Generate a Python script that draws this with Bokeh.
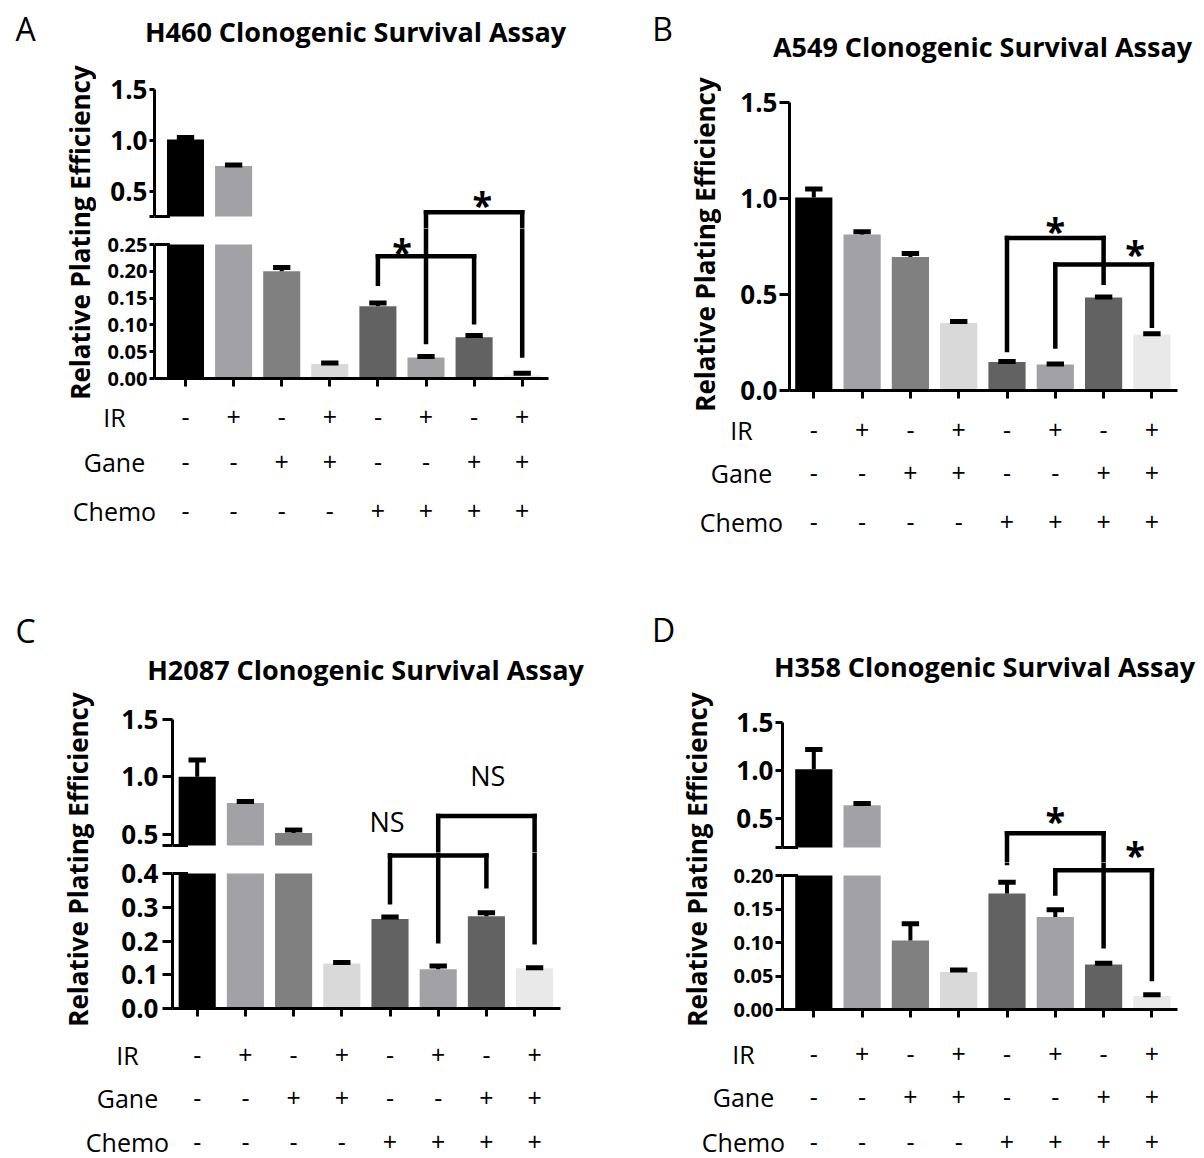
import numpy as np
from bokeh.plotting import figure
from bokeh.layouts import column, row
from bokeh.models import Range1d, FixedTicker, NumeralTickFormatter
from bokeh.core.properties import value
from bokeh.embed import file_html
from bokeh.resources import INLINE

FONT = "Open Sans"

# ---------------- data ----------------
positions = [1, 2, 3, 4, 5, 6, 7, 8]
row_names = ["IR", "Gane", "Chemo"]
ir_row = ["-", "+", "-", "+", "-", "+", "-", "+"]
gane_row = ["-", "-", "+", "+", "-", "-", "+", "+"]
chemo_row = ["-", "-", "-", "-", "+", "+", "+", "+"]
bar_colors = ["#000000", "#a2a2a6", "#808080", "#d9d9d9",
              "#626262", "#a2a2a6", "#626262", "#e9e9e9"]

titles = ["H460 Clonogenic Survival Assay", "A549 Clonogenic Survival Assay",
          "H2087 Clonogenic Survival Assay", "H358 Clonogenic Survival Assay"]
letters = ["A", "B", "C", "D"]
y_title = "Relative Plating Efficiency"

h460_mean = [1.008, 0.748, 0.200, 0.027, 0.135, 0.039, 0.077, 0.006]
h460_err = [0.020, 0.008, 0.007, 0.002, 0.006, 0.002, 0.003, 0.004]
a549_mean = [1.005, 0.812, 0.695, 0.351, 0.149, 0.136, 0.484, 0.292]
a549_err = [0.045, 0.015, 0.018, 0.009, 0.002, 0.002, 0.003, 0.004]
h2087_mean = [1.000, 0.770, 0.509, 0.133, 0.265, 0.116, 0.273, 0.119]
h2087_err = [0.146, 0.015, 0.026, 0.003, 0.006, 0.010, 0.011, 0.002]
h358_mean = [1.015, 0.640, 0.103, 0.056, 0.173, 0.138, 0.067, 0.020]
h358_err = [0.205, 0.018, 0.025, 0.003, 0.017, 0.011, 0.002, 0.002]

# significance brackets: (left bar, right bar, level, left-leg end, right-leg end,
#                         mark, mark x, mark y) ; y given as (value, segment T/B)
h460_brackets = [
    (5, 7, (0.228, "B"), (0.177, "B"), (0.105, "B"), "*", 5.5, (0.248, "B")),
    (6, 8, (0.292, "T"), (0.068, "B"), (0.043, "B"), "*", 7.17, (0.424, "T")),
]
a549_brackets = [
    (5, 7, (0.794, "B"), (0.211, "B"), (0.561, "B"), "*", 6.0, (0.866, "B")),
    (6, 8, (0.656, "B"), (0.229, "B"), (0.337, "B"), "*", 7.65, (0.744, "B")),
]
h2087_brackets = [
    (5, 7, (0.453, "B"), (0.315, "B"), (0.362, "B"), "NS", 4.94, (0.606, "T")),
    (6, 8, (0.658, "T"), (0.199, "B"), (0.196, "B"), "NS", 7.03, (1.011, "T")),
]
h358_brackets = [
    (5, 7, (0.347, "T"), (0.2187, "B"), (0.0945, "B"), "*", 6.0, (0.540, "T")),
    (6, 8, (0.208, "B"), (0.173, "B"), (0.0454, "B"), "*", 7.65, (0.1875, "T")),
]

TOP_MAX = 1.5
TOP_TICKS = [0.5, 1.0, 1.5]
BAR_W = 0.77
CAP = 0.18
ROW_SIZE = 25

# ---------------- layout geometry (page pixels, origin at page top-left) ----------------
GA = dict(box=(0, 604, 0, 584), header_b=58, ylab_r=96, fl=154, fr=548, c1=185.0, s=48.1,
          ttop=89, tbreak_px=216, tbreak=0.25, boundary=228, btop=244, bmax=0.25, b0=378,
          rows_t=399, rows_y=[416, 461, 510], lab_cx=114, ylab_c=(79, 232),
          letter_c=(25, 28), title_c=(355, 31), tick_out=5, standoff=2)
GB = dict(box=(604, 1200, 0, 584), header_b=66, ylab_r=721, fl=789, fr=1177, c1=813.3, s=48.3,
          ttop=102, b0=390, rows_t=411, rows_y=[429, 472, 521], lab_cx=741, ylab_c=(704, 244),
          letter_c=(662, 28), title_c=(982, 46), tick_out=10, standoff=2)
GC = dict(box=(0, 604, 584, 1157), header_b=689, ylab_r=100, fl=172, fr=560, c1=196.7, s=48.2,
          ttop=719, tbreak_px=845, tbreak=0.4, boundary=852, btop=873, bmax=0.4, b0=1008,
          rows_t=1027, rows_y=[1054, 1097, 1141], lab_cx=127, ylab_c=(77, 859),
          letter_c=(25, 630), title_c=(365, 669), tick_out=10, standoff=4)
GD = dict(box=(604, 1200, 584, 1157), header_b=689, ylab_r=715, fl=782, fr=1177, c1=813.3, s=48.3,
          ttop=722, tbreak_px=847, tbreak=0.2, boundary=862, btop=875, bmax=0.2, b0=1009,
          rows_t=1027, rows_y=[1053, 1096, 1141], lab_cx=743, ylab_c=(696, 859),
          letter_c=(663, 629), title_c=(984, 666), tick_out=7, standoff=2)


def new_fig(w, h, xr, yr, l=0, r=0, t=0, b=0, xaxis=None, yaxis=None):
    p = figure(width=int(w), height=int(h), x_range=xr, y_range=yr,
               toolbar_location=None, output_backend="svg",
               x_axis_location=xaxis, y_axis_location=yaxis,
               min_border_left=int(l), min_border_right=int(r),
               min_border_top=int(t), min_border_bottom=int(b))
    p.outline_line_color = None
    p.background_fill_color = "white"
    p.border_fill_color = "white"
    for g in p.grid:
        g.visible = False
    return p


def txt(p, xs, ys, texts, size, bold=False, angle=0.0, y_offset=0):
    p.text(x=xs, y=ys, text=texts, angle=angle, text_font=value(FONT),
           text_font_size=f"{size}px", text_font_style="bold" if bold else "normal",
           text_align="center", text_baseline="middle", text_color="black",
           y_offset=y_offset)


def style_y(ax, ticks, fmt, size, g, bounds, minor=None):
    ax.ticker = FixedTicker(ticks=ticks, minor_ticks=minor or [])
    ax.formatter = NumeralTickFormatter(format=fmt)
    ax.bounds = bounds
    ax.axis_line_width = 3
    ax.axis_line_color = "black"
    ax.major_tick_line_width = 3
    ax.major_tick_line_color = "black"
    ax.major_tick_out = g["tick_out"]
    ax.major_tick_in = 0
    ax.minor_tick_line_width = 3
    ax.minor_tick_line_color = "black"
    ax.minor_tick_out = g["tick_out"]
    ax.minor_tick_in = 0
    ax.major_label_text_font = FONT
    ax.major_label_text_font_style = "bold"
    ax.major_label_text_font_size = f"{size}px"
    ax.major_label_text_color = "black"
    ax.major_label_standoff = g["standoff"]


def style_x(ax):
    # tick marks only (no labels): bar positions as minor ticks
    ax.ticker = FixedTicker(ticks=[], minor_ticks=positions)
    ax.axis_line_width = 3
    ax.axis_line_color = "black"
    ax.minor_tick_line_width = 3
    ax.minor_tick_line_color = "black"
    ax.minor_tick_out = 8
    ax.minor_tick_in = 0


def draw_bars(p, idx, bottom, top_vals):
    p.vbar(x=[positions[i] for i in idx], width=BAR_W, bottom=bottom,
           top=top_vals, fill_color=[bar_colors[i] for i in idx], line_color=None)


def draw_err(p, idx, mean, err):
    if not idx:
        return
    xs = [positions[i] for i in idx]
    m = [mean[i] for i in idx]
    t = [mean[i] + err[i] for i in idx]
    p.segment(x0=xs, y0=m, x1=xs, y1=t, line_width=4, line_color="black")
    p.segment(x0=[x - CAP for x in xs], y0=t, x1=[x + CAP for x in xs], y1=t,
              line_width=5, line_color="black")


def add_brackets(figs, brackets):
    segs = {k: dict(x0=[], y0=[], x1=[], y1=[]) for k in ("T", "B")}
    marks = {k: dict(x=[], y=[], t=[]) for k in ("T", "B")}

    def add(seg, xa, ya, xb, yb):
        d = segs[seg]
        d["x0"].append(xa); d["y0"].append(ya); d["x1"].append(xb); d["y1"].append(yb)

    def vline(x, a, b):
        if a[1] == b[1]:
            add(a[1], x, a[0], x, b[0])
        else:
            lo, hi = (a, b) if a[1] == "B" else (b, a)
            add("B", x, lo[0], x, figs["B"].y_range.end)
            add("T", x, figs["T"].y_range.start, x, hi[0])

    for (xl, xr, lev, el, er, mk, mx, my) in brackets:
        add(lev[1], xl, lev[0], xr, lev[0])
        vline(xl, el, lev)
        vline(xr, er, lev)
        marks[my[1]]["x"].append(mx); marks[my[1]]["y"].append(my[0]); marks[my[1]]["t"].append(mk)

    for k in ("T", "B"):
        p = figs[k]
        d = segs[k]
        if d["x0"]:
            p.segment(x0=d["x0"], y0=d["y0"], x1=d["x1"], y1=d["y1"], line_width=4.5,
                      line_color="black", line_cap="square")
        m = marks[k]
        stars = [i for i, t in enumerate(m["t"]) if t == "*"]
        ns = [i for i, t in enumerate(m["t"]) if t != "*"]
        if stars:
            txt(p, [m["x"][i] for i in stars], [m["y"][i] for i in stars],
                [m["t"][i] for i in stars], 36, bold=True, y_offset=6)
        if ns:
            txt(p, [m["x"][i] for i in ns], [m["y"][i] for i in ns],
                [m["t"][i] for i in ns], 27)


def header_fig(g, title, letter):
    x0, x1, y0, y1 = g["box"]
    p = new_fig(x1 - x0, g["header_b"] - y0, Range1d(x0, x1), Range1d(g["header_b"], y0))
    txt(p, [g["letter_c"][0]], [g["letter_c"][1]], [letter], 32)
    txt(p, [g["title_c"][0]], [g["title_c"][1]], [title], 27, bold=True)
    return p


def ylab_fig(g):
    x0, x1, y0, y1 = g["box"]
    p = new_fig(g["ylab_r"] - x0, g["rows_t"] - g["header_b"], Range1d(x0, g["ylab_r"]),
                Range1d(g["rows_t"], g["header_b"]))
    txt(p, [g["ylab_c"][0]], [g["ylab_c"][1]], [y_title], 26, bold=True, angle=np.pi / 2)
    return p


def rows_fig(g):
    x0, x1, y0, y1 = g["box"]
    xs = 1 + (x0 - g["c1"]) / g["s"]
    xe = 1 + (x1 - g["c1"]) / g["s"]
    p = new_fig(x1 - x0, y1 - g["rows_t"], Range1d(xs, xe), Range1d(y1, g["rows_t"]))
    lab_x = 1 + (g["lab_cx"] - g["c1"]) / g["s"]
    for ry, name, vals in zip(g["rows_y"], row_names, [ir_row, gane_row, chemo_row]):
        txt(p, [lab_x], [ry], [name], ROW_SIZE)
        txt(p, positions, [ry] * len(positions), vals, ROW_SIZE)
    return p


def broken_panel(g, mean, err, brackets, title, letter, bot_ticks, bot_fmt, bot_size):
    x0, x1, y0, y1 = g["box"]
    xs = 1 + (g["fl"] - g["c1"]) / g["s"]
    xe = 1 + (g["fr"] - g["c1"]) / g["s"]
    t_scale = (g["tbreak_px"] - g["ttop"]) / (TOP_MAX - g["tbreak"])
    t_start = TOP_MAX - (g["boundary"] - g["ttop"]) / t_scale
    b_scale = (g["b0"] - g["btop"]) / g["bmax"]
    b_end = (g["b0"] - g["boundary"]) / b_scale
    W = x1 - g["ylab_r"]
    L = g["fl"] - g["ylab_r"]
    R = x1 - g["fr"]
    top = new_fig(W, g["boundary"] - g["header_b"], Range1d(xs, xe), Range1d(t_start, TOP_MAX),
                  l=L, r=R, t=g["ttop"] - g["header_b"], b=0, yaxis="left")
    bot = new_fig(W, g["rows_t"] - g["boundary"], Range1d(xs, xe), Range1d(0, b_end),
                  l=L, r=R, t=0, b=g["rows_t"] - g["b0"], xaxis="below", yaxis="left")
    style_y(top.yaxis[0], TOP_TICKS, "0.0", 26, g, (g["tbreak"], TOP_MAX), minor=[g["tbreak"]])
    style_y(bot.yaxis[0], bot_ticks, bot_fmt, bot_size, g, (0, g["bmax"]))
    style_x(bot.xaxis[0])

    hi = [i for i in range(8) if mean[i] > g["tbreak"]]
    lo = [i for i in range(8) if mean[i] <= g["tbreak"]]
    draw_bars(top, hi, g["tbreak"], [mean[i] for i in hi])
    draw_bars(bot, list(range(8)), 0, list(np.minimum(mean, g["bmax"])))
    draw_err(top, hi, mean, err)
    draw_err(bot, lo, mean, err)
    # break caps
    top.segment(x0=[xs], y0=[g["tbreak"]], x1=[xs + 0.32], y1=[g["tbreak"]], line_width=3, line_color="black")
    bot.segment(x0=[xs], y0=[g["bmax"]], x1=[xs + 0.32], y1=[g["bmax"]], line_width=3, line_color="black")
    add_brackets({"T": top, "B": bot}, brackets)

    return column(header_fig(g, title, letter),
                  row(ylab_fig(g), column(top, bot)),
                  rows_fig(g))


def single_panel(g, mean, err, brackets, title, letter):
    x0, x1, y0, y1 = g["box"]
    xs = 1 + (g["fl"] - g["c1"]) / g["s"]
    xe = 1 + (g["fr"] - g["c1"]) / g["s"]
    p = new_fig(x1 - g["ylab_r"], g["rows_t"] - g["header_b"], Range1d(xs, xe), Range1d(0, TOP_MAX),
                l=g["fl"] - g["ylab_r"], r=x1 - g["fr"], t=g["ttop"] - g["header_b"],
                b=g["rows_t"] - g["b0"], xaxis="below", yaxis="left")
    style_y(p.yaxis[0], [0.0] + TOP_TICKS, "0.0", 26, g, (0, TOP_MAX))
    style_x(p.xaxis[0])
    draw_bars(p, list(range(8)), 0, mean)
    draw_err(p, list(range(8)), mean, err)
    add_brackets({"T": p, "B": p}, brackets)
    return column(header_fig(g, title, letter), row(ylab_fig(g), column(p)), rows_fig(g))


pA = broken_panel(GA, h460_mean, h460_err, h460_brackets, titles[0], letters[0],
                  [0.0, 0.05, 0.10, 0.15, 0.20, 0.25], "0.00", 20)
pB = single_panel(GB, a549_mean, a549_err, a549_brackets, titles[1], letters[1])
pC = broken_panel(GC, h2087_mean, h2087_err, h2087_brackets, titles[2], letters[2],
                  [0.0, 0.1, 0.2, 0.3, 0.4], "0.0", 26)
pD = broken_panel(GD, h358_mean, h358_err, h358_brackets, titles[3], letters[3],
                  [0.0, 0.05, 0.10, 0.15, 0.20], "0.00", 20)

layout = column(row(pA, pB), row(pC, pD))

with open("out.html", "w") as f:
    f.write(file_html(layout, INLINE))
